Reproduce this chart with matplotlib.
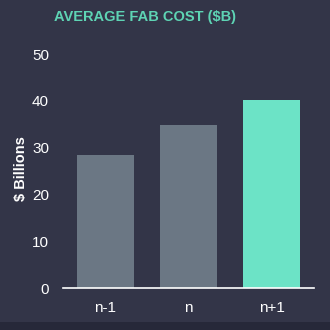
import matplotlib
matplotlib.use("Agg")
import matplotlib.pyplot as plt
from matplotlib.patches import Rectangle

categories = ["n-1", "n", "n+1"]
fab_cost = [28.4, 34.8, 40.2]
bar_colors = ["#6b7784", "#6b7784", "#6ce3c6"]
y_ticks = [0, 10, 20, 30, 40, 50]

BG = "#333548"
plt.rcParams["font.family"] = ["Liberation Sans", "DejaVu Sans"]

fig = plt.figure(figsize=(3.3, 3.3), dpi=100, facecolor=BG)
# darker strip along the bottom edge
fig.patches.append(Rectangle((0, 0), 1, 8 / 330, transform=fig.transFigure,
                             facecolor="#262839", edgecolor="none", zorder=0))

ax = fig.add_axes([63 / 330, 42 / 330, 251 / 330, 234 / 330])
ax.set_facecolor(BG)
x = range(len(categories))
ax.bar(x, fab_cost, width=0.69, color=bar_colors, zorder=2)

ax.set_xlim(-0.51, 2.51)
ax.set_ylim(0, 50)
ax.set_yticks(y_ticks)
ax.set_xticks(list(x))
ax.set_xticklabels(categories)
ax.tick_params(axis="both", length=0, colors="white", labelsize=11)
ax.tick_params(axis="y", pad=10)
ax.tick_params(axis="x", pad=9)
for s in ["top", "right", "left"]:
    ax.spines[s].set_visible(False)
ax.spines["bottom"].set_color("white")
ax.spines["bottom"].set_linewidth(1.2)

fig.text(21 / 330, 1 - 169 / 330, "$ Billions", color="white", fontsize=10.5,
         fontweight="bold", rotation=90, ha="center", va="center")
fig.text(145 / 330, 1 - 17 / 330, "AVERAGE FAB COST ($B)", color="#5ed4b4",
         fontsize=10.5, fontweight="bold", ha="center", va="center")

fig.savefig("out.png", dpi=100, facecolor=BG)
